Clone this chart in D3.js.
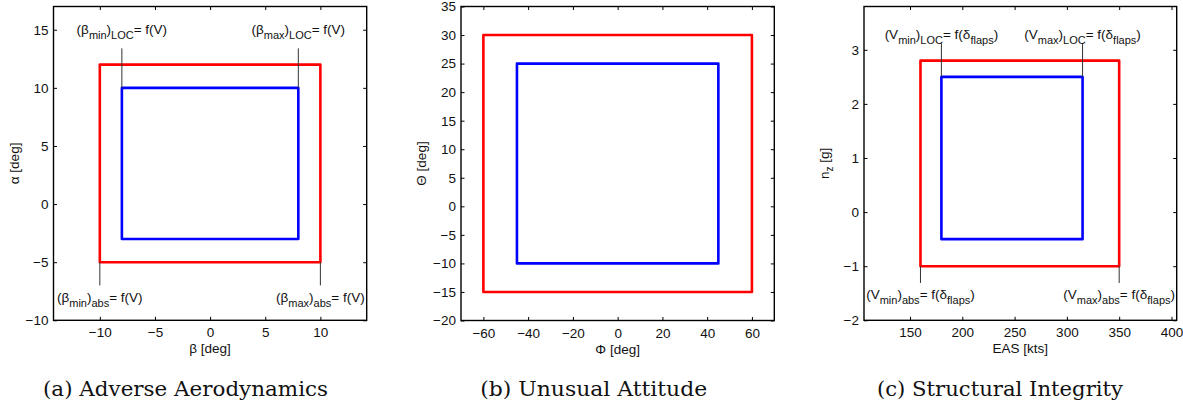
<!DOCTYPE html>
<html>
<head>
<meta charset="utf-8">
<script src="https://cdn.jsdelivr.net/npm/d3@7"></script>
<style>
  html, body { margin: 0; padding: 0; background: #fff; }
  svg { display: block; }
</style>
</head>
<body>
<svg id="chart" width="1183" height="406"></svg>
<script>
// ---------------- DATA ----------------
// Panel (a) Adverse Aerodynamics
const aXDomain = [-14.2, 14.2];
const aYDomain = [-10, 17];
const aXTicks = [-10, -5, 0, 5, 10];
const aYTicks = [-10, -5, 0, 5, 10, 15];
const aRedX = [-10, 10];
const aRedY = [-5, 12];
const aBlueX = [-8, 8];
const aBlueY = [-3, 10];
const aXLabel = "β [deg]";
const aYLabel = ["α [deg]", null];
const aCaption = "(a) Adverse Aerodynamics";
const aNotes = [
  { pre: "(β", s1: "min", mid: ")", s2: "LOC", post: "= f(V)", s3: null, end: "", x: -8, y0: 10, y1: 13.4, ty: 14.65 },
  { pre: "(β", s1: "max", mid: ")", s2: "LOC", post: "= f(V)", s3: null, end: "", x: 8, y0: 10, y1: 13.4, ty: 14.65 },
  { pre: "(β", s1: "min", mid: ")", s2: "abs", post: "= f(V)", s3: null, end: "", x: -10, y0: -5, y1: -7, ty: -8.45 },
  { pre: "(β", s1: "max", mid: ")", s2: "abs", post: "= f(V)", s3: null, end: "", x: 10, y0: -5, y1: -7, ty: -8.45 }
];

// Panel (b) Unusual Attitude
const bXDomain = [-70, 70];
const bYDomain = [-20, 35];
const bXTicks = [-60, -40, -20, 0, 20, 40, 60];
const bYTicks = [-20, -15, -10, -5, 0, 5, 10, 15, 20, 25, 30, 35];
const bRedX = [-60, 60];
const bRedY = [-15, 30];
const bBlueX = [-45, 45];
const bBlueY = [-10, 25];
const bXLabel = "Φ [deg]";
const bYLabel = ["Θ [deg]", null];
const bCaption = "(b) Unusual Attitude";
const bNotes = [];

// Panel (c) Structural Integrity
const cXDomain = [106, 405];
const cYDomain = [-2, 3.8];
const cXTicks = [150, 200, 250, 300, 350, 400];
const cYTicks = [-2, -1, 0, 1, 2, 3];
const cRedX = [160, 350];
const cRedY = [-1, 2.8];
const cBlueX = [180, 315];
const cBlueY = [-0.5, 2.5];
const cXLabel = "EAS [kts]";
const cYLabel = ["n", "z", " [g]"];
const cCaption = "(c) Structural Integrity";
const cNotes = [
  { pre: "(V", s1: "min", mid: ")", s2: "LOC", post: "= f(δ", s3: "flaps", end: ")", x: 180, y0: 2.5, y1: 3.12, ty: 3.2 },
  { pre: "(V", s1: "max", mid: ")", s2: "LOC", post: "= f(δ", s3: "flaps", end: ")", x: 315, y0: 2.5, y1: 3.12, ty: 3.2 },
  { pre: "(V", s1: "min", mid: ")", s2: "abs", post: "= f(δ", s3: "flaps", end: ")", x: 160, y0: -1, y1: -1.31, ty: -1.6 },
  { pre: "(V", s1: "max", mid: ")", s2: "abs", post: "= f(δ", s3: "flaps", end: ")", x: 350, y0: -1, y1: -1.31, ty: -1.6 }
];

// ---------------- LAYOUT ----------------
const panels = [
  { xd: aXDomain, yd: aYDomain, xt: aXTicks, yt: aYTicks, red: [aRedX, aRedY], blue: [aBlueX, aBlueY],
    xl: aXLabel, yl: aYLabel, cap: aCaption, notes: aNotes,
    L: 53.5, R: 366.7, T: 6.5, B: 320.3, capX: 185.5, capW: 285 },
  { xd: bXDomain, yd: bYDomain, xt: bXTicks, yt: bYTicks, red: [bRedX, bRedY], blue: [bBlueX, bBlueY],
    xl: bXLabel, yl: bYLabel, cap: bCaption, notes: bNotes,
    L: 461, R: 774.3, T: 6.5, B: 320.5, capX: 593.7, capW: 227 },
  { xd: cXDomain, yd: cYDomain, xt: cXTicks, yt: cYTicks, red: [cRedX, cRedY], blue: [cBlueX, cBlueY],
    xl: cXLabel, yl: cYLabel, cap: cCaption, notes: cNotes,
    L: 864, R: 1176.7, T: 6.5, B: 320.3, capX: 1000, capW: 246 }
];

const sansFont = "'Liberation Sans', Arimo, Arial, Helvetica, sans-serif";
const serifFont = "'DejaVu Serif', serif";
const fmt = d3.format("d");
const svg = d3.select("#chart");

panels.forEach(p => {
  const x = d3.scaleLinear().domain(p.xd).range([p.L, p.R]);
  const y = d3.scaleLinear().domain(p.yd).range([p.B, p.T]);
  const g = svg.append("g");

  // axes (ticks inward on all sides)
  const styleAxis = sel => {
    sel.select(".domain").remove();
    sel.selectAll(".tick line").attr("stroke", "#000").attr("stroke-width", 1);
    sel.selectAll(".tick text").attr("fill", "#111")
      .style("font-family", sansFont).style("font-size", "13.5px");
  };
  g.append("g").attr("transform", `translate(0,${p.B})`)
    .call(d3.axisBottom(x).tickValues(p.xt).tickFormat(fmt).tickSizeInner(-3.5).tickSizeOuter(0).tickPadding(7.5))
    .call(styleAxis);
  g.append("g").attr("transform", `translate(0,${p.T})`)
    .call(d3.axisTop(x).tickValues(p.xt).tickSizeInner(-3.5).tickSizeOuter(0).tickFormat(""))
    .call(styleAxis);
  g.append("g").attr("transform", `translate(${p.L},0)`)
    .call(d3.axisLeft(y).tickValues(p.yt).tickFormat(fmt).tickSizeInner(-3.5).tickSizeOuter(0).tickPadding(5))
    .call(styleAxis);
  g.append("g").attr("transform", `translate(${p.R},0)`)
    .call(d3.axisRight(y).tickValues(p.yt).tickSizeInner(-3.5).tickSizeOuter(0).tickFormat(""))
    .call(styleAxis);

  // frame
  g.append("rect")
    .attr("x", p.L).attr("y", p.T)
    .attr("width", p.R - p.L).attr("height", p.B - p.T)
    .attr("fill", "none").attr("stroke", "#000").attr("stroke-width", 1.4);

  // envelopes
  const line = d3.line().x(d => x(d[0])).y(d => y(d[1]));
  const boxPts = b => [[b[0][0], b[1][0]], [b[0][1], b[1][0]], [b[0][1], b[1][1]], [b[0][0], b[1][1]], [b[0][0], b[1][0]]];
  g.append("path").attr("d", line(boxPts(p.red)) + "Z")
    .attr("fill", "none").attr("stroke", "#ff0000").attr("stroke-width", 2.6).attr("stroke-linejoin", "round");
  g.append("path").attr("d", line(boxPts(p.blue)) + "Z")
    .attr("fill", "none").attr("stroke", "#0000ff").attr("stroke-width", 2.6).attr("stroke-linejoin", "round");

  // annotations
  p.notes.forEach(n => {
    g.append("line")
      .attr("x1", x(n.x)).attr("x2", x(n.x))
      .attr("y1", y(n.y0)).attr("y2", y(n.y1))
      .attr("stroke", "#333").attr("stroke-width", 1);
    const t = g.append("text")
      .attr("x", x(n.x)).attr("y", y(n.ty))
      .attr("text-anchor", "middle")
      .attr("fill", "#111")
      .style("font-family", sansFont).style("font-size", "13.5px");
    t.append("tspan").text(n.pre);
    t.append("tspan").attr("dy", 5).style("font-size", "11px").text(n.s1);
    t.append("tspan").attr("dy", -5).text(n.mid);
    t.append("tspan").attr("dy", 5).style("font-size", "11px").text(n.s2);
    t.append("tspan").attr("dy", -5).text(n.post);
    if (n.s3) {
      t.append("tspan").attr("dy", 5).style("font-size", "11px").text(n.s3);
      t.append("tspan").attr("dy", -5).text(n.end);
    }
  });

  // axis labels
  g.append("text")
    .attr("x", (p.L + p.R) / 2).attr("y", p.B + 33)
    .attr("text-anchor", "middle").attr("fill", "#111")
    .style("font-family", sansFont).style("font-size", "13.5px")
    .text(p.xl);
  const yl = g.append("text")
    .attr("transform", `translate(${p.L - 35},${(p.T + p.B) / 2}) rotate(-90)`)
    .attr("text-anchor", "middle").attr("fill", "#111")
    .style("font-family", sansFont).style("font-size", "13.5px");
  if (p.yl[1]) {
    yl.append("tspan").text(p.yl[0]);
    yl.append("tspan").attr("dy", 4).style("font-size", "10px").text(p.yl[1]);
    yl.append("tspan").attr("dy", -4).text(p.yl[2]);
  } else {
    yl.text(p.yl[0]);
  }

  // caption
  g.append("text")
    .attr("x", p.capX).attr("y", 396)
    .attr("text-anchor", "middle").attr("fill", "#111")
    .attr("textLength", p.capW).attr("lengthAdjust", "spacingAndGlyphs")
    .style("font-family", serifFont).style("font-size", "21px")
    .text(p.cap);
});
</script>
</body>
</html>
